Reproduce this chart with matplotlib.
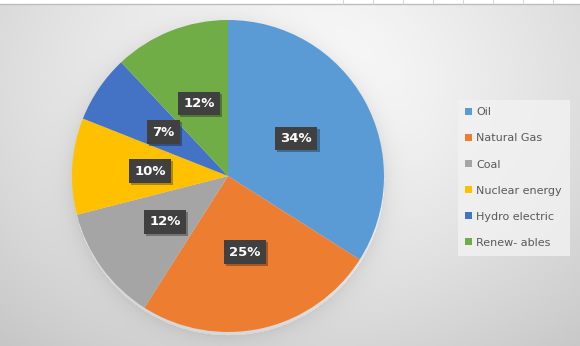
import numpy as np
import matplotlib
matplotlib.use("Agg")
import matplotlib.pyplot as plt
from matplotlib.patches import Patch
import matplotlib.patheffects as pe

# Energy mix shares (percent)
sources = ["Oil", "Natural Gas", "Coal", "Nuclear energy", "Hydro electric", "Renew- ables"]
shares = [34, 25, 12, 10, 7, 12]
colors = ["#5B9BD5", "#ED7D31", "#A5A5A5", "#FFC000", "#4472C4", "#70AD47"]

W, H = 580, 346
fig = plt.figure(figsize=(W / 100, H / 100), dpi=100)

# Background: radial grey gradient with a soft glow around the pie
cx, cy, R = 228, 176, 156
yy, xx = np.mgrid[0:H, 0:W]
d = np.hypot((xx - 300) / 420, (yy - 80) / 330)
bg = 0.985 - 0.19 * np.clip(d, 0, 1.2) ** 1.3
dp = np.hypot(xx - cx, yy - cy - 3)
shadow = np.where(dp > R, 0.07 * np.exp(-(dp - R) / 10.0), 0.0)
bg = np.clip(bg - shadow, 0, 1)
bg[:4, :] = 1.0
bax = fig.add_axes([0, 0, 1, 1])
bax.imshow(np.dstack([bg, bg, bg]), extent=[0, W, H, 0], aspect="auto", interpolation="bilinear")
bax.plot([0, W], [3.5, 3.5], color="#bdbdbd", lw=1.0)
for xv in range(343, W, 30):
    bax.plot([xv, xv], [0, 3.5], color="#d0d0d0", lw=0.6)
bax.set_xlim(0, W)
bax.set_ylim(H, 0)
bax.axis("off")

# Pie
ax = fig.add_axes([(cx - R) / W, (H - cy - R) / H, 2 * R / W, 2 * R / H])
wedges, _ = ax.pie(shares, colors=colors, startangle=90, counterclock=False,
                   radius=1.0, wedgeprops=dict(linewidth=0))
ax.set_xlim(-1, 1)
ax.set_ylim(-1, 1)
ax.set_aspect("equal")
ax.axis("off")

# Percentage labels in dark boxes with a drop shadow
total = sum(shares)
start = 90.0
for val in shares:
    sweep = val / total * 360
    mid = np.deg2rad(start - sweep / 2)
    start -= sweep
    x, y = 0.5 * np.cos(mid), 0.5 * np.sin(mid)
    t = ax.text(x, y, f"{val}%", ha="center", va="center", fontsize=9.5,
                fontweight="bold", color="white",
                bbox=dict(boxstyle="square,pad=0.4", facecolor="#404040", edgecolor="none"))
    t.get_bbox_patch().set_path_effects([
        pe.SimplePatchShadow(offset=(1.5, -1.5), shadow_rgbFace="black", alpha=0.3),
        pe.Normal(),
    ])

# Legend
handles = [Patch(facecolor=c, edgecolor="none") for c in colors]
leg = fig.legend(handles, sources, loc="upper left",
                 bbox_to_anchor=(452 / W, 1 - 94 / H), frameon=True,
                 fontsize=8, labelcolor="#595959", handlelength=0.6, handleheight=0.6,
                 handletextpad=0.4, labelspacing=1.45, borderpad=0.7, fancybox=False)
leg.get_frame().set_facecolor("#f2f2f2")
leg.get_frame().set_edgecolor("none")
leg.get_frame().set_alpha(0.8)

fig.savefig("out.png", dpi=100)
